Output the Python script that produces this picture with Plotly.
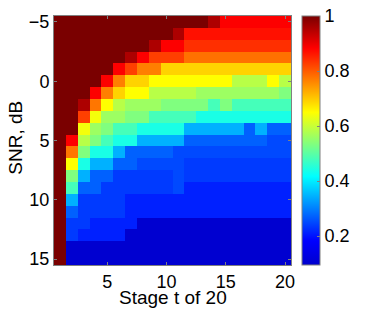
import plotly.graph_objects as go

stages = list(range(1, 21))
snr_db = list(range(-5, 16))

D, B, R, R1, RO, O, G, Y = 1.0, 0.955, 0.885, 0.868, 0.835, 0.775, 0.69, 0.65
YG, LG, GR, AQ, CY, LB = 0.585, 0.56, 0.534, 0.48, 0.44, 0.345
M, M2, N, P, K = 0.272, 0.25, 0.236, 0.212, 0.10

row_m5 = [D]*13 + [B] + [R]*6
row_m4 = [D]*10 + [B] + [R1]*9
row_m3 = [D]*8 + [B, R, R] + [0.84]*9
row_m2 = [D]*6 + [B, R] + [0.825]*3 + [0.78]*9
row_m1 = [D]*5 + [R, 0.825, 0.767, 0.767] + [G]*11
row_0 = [D]*4 + [R, 0.767, G, G] + [Y]*7 + [YG]*3 + [Y, YG]
row_1 = [D]*3 + [R, 0.767, G, Y, Y] + [YG]*4 + [LG]*7 + [GR]
row_2 = [D]*2 + [B, 0.775, Y, YG] + [LG]*3 + [GR]*4 + [AQ, GR] + [AQ]*5
row_3 = [D]*2 + [0.825, 0.64, LG, LG, GR, GR] + [AQ]*4 + [CY]*8
row_4 = [D]*2 + [0.64, LG, GR, AQ, AQ] + [CY]*4 + [LB]*5 + [M, LB, M, M]
row_5 = [D, R, YG, GR, AQ, CY, CY] + [LB]*4 + [M]*7 + [M2]*2
row_6 = [D, 0.775, GR, CY, CY, LB] + [M]*4 + [M2]*10
row_7 = [D, Y, CY, LB, LB, M, M] + [M2]*4 + [N]*9
row_8 = [D, GR, LB, M, M] + [N]*5 + [M2] + [N]*9
row_9 = [D, AQ, M, M] + [N]*6 + [M2] + [P]*9
row_10 = [D, LB] + [N]*4 + [P]*14
row_11 = [D, M] + [N]*4 + [P]*14
row_12 = [D, N, N] + [P]*4 + [K]*13
row_13 = [D, N] + [P]*4 + [K]*14
row_14 = [D] + [K]*19
row_15 = [D] + [K]*19

values = [row_m5, row_m4, row_m3, row_m2, row_m1, row_0, row_1, row_2, row_3,
          row_4, row_5, row_6, row_7, row_8, row_9, row_10, row_11, row_12,
          row_13, row_14, row_15]

zmin, zmax = 0.095, 1.0
def n(v):
    return (v - zmin) / (zmax - zmin)

colorscale = [
    [0.0, "rgb(0,0,205)"],
    [n(0.183), "rgb(0,0,255)"],
    [n(0.417), "rgb(0,255,255)"],
    [n(0.650), "rgb(255,255,0)"],
    [n(0.883), "rgb(255,0,0)"],
    [1.0, "rgb(122,0,0)"],
]

cbar_ticks = [0.2, 0.4, 0.6, 0.8, 1]
cbar_text = ["0.2", "0.4", "0.6", "0.8", "1"]
x_ticks = [5, 10, 15, 20]
y_ticks = [-5, 0, 5, 10, 15]
y_text = ["\u22125", "0", "5", "10", "15"]
x_title = "Stage t of 20"
y_title = "SNR, dB"

fam = "Liberation Sans, Arial, sans-serif"
tick_font = dict(family=fam, size=18, color="black")
title_font = dict(family=fam, size=19, color="black")

fig = go.Figure(go.Heatmap(
    x=stages, y=snr_db, z=values, zmin=zmin, zmax=zmax,
    colorscale=colorscale,
    colorbar=dict(
        x=1.048, xanchor="left", xpad=0, y=0.5, yanchor="middle", len=1.0, lenmode="fraction",
        ypad=0, thickness=18, outlinecolor="#808080", outlinewidth=1,
        tickvals=cbar_ticks, ticktext=cbar_text, ticks="inside", ticklen=3,
        tickcolor="#808080", tickfont=tick_font,
    ),
))

fig.update_xaxes(range=[0.5, 20.5], tickvals=x_ticks, ticks="inside", ticklen=3,
                 tickcolor="#808080", showline=True, linecolor="#808080", mirror="ticks",
                 showgrid=False, zeroline=False, tickfont=tick_font)
fig.update_yaxes(range=[15.5, -5.5], tickvals=y_ticks, ticktext=y_text, ticks="inside",
                 ticklen=3, tickcolor="#808080", showline=True, linecolor="#808080",
                 mirror="ticks", showgrid=False, zeroline=False, tickfont=tick_font)

fig.add_annotation(text=x_title, xref="paper", yref="paper", x=0.5, y=-0.179,
                   xanchor="center", yanchor="bottom", showarrow=False, font=title_font)
fig.add_annotation(text=y_title, xref="paper", yref="paper", x=-0.166, y=0.51,
                   xanchor="center", yanchor="middle", showarrow=False, font=title_font,
                   textangle=-90)

fig.update_layout(
    width=366, height=311,
    margin=dict(l=54, r=64, t=14, b=46),
    paper_bgcolor="white", plot_bgcolor="white",
    font=tick_font,
)

fig.write_html("out.html", config={"displayModeBar": False},
               post_script="document.body.style.margin='0';")
